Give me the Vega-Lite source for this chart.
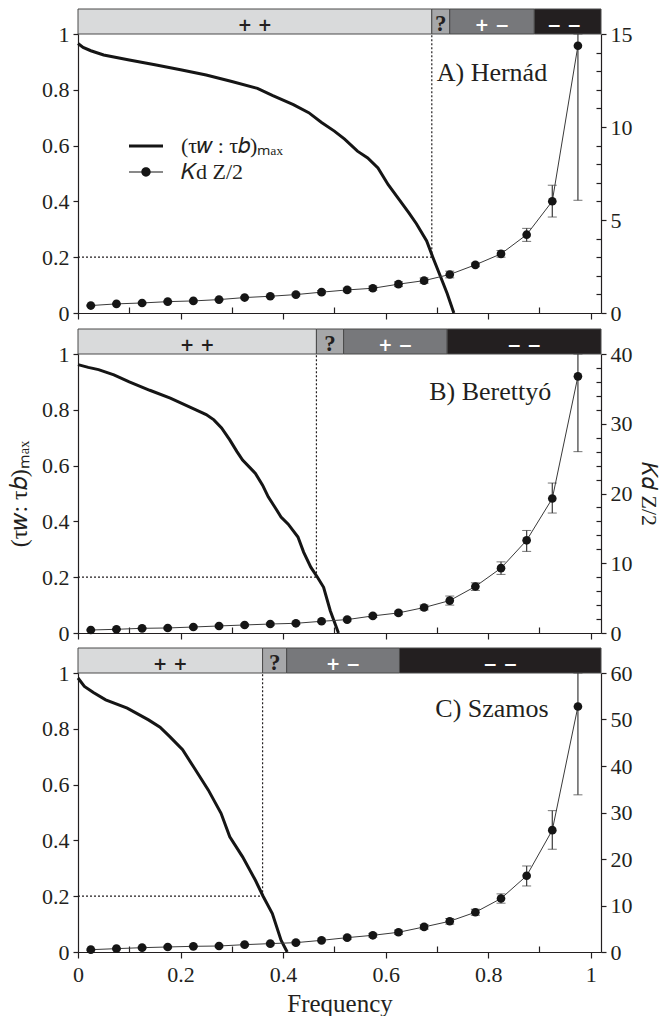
{
  "$schema": "https://vega.github.io/schema/vega-lite/v6.json",
  "padding": {"left": 7, "top": 8, "right": 6, "bottom": 0},
  "config": {
    "font": "Liberation Serif",
    "view": {"stroke": null},
    "axis": {"labelFont": "Liberation Serif", "titleFont": "Liberation Serif", "labelColor": "#231f20", "titleColor": "#231f20", "labelFontSize": 22, "titleFontSize": 24, "titleFontWeight": "normal", "domainColor": "#231f20", "tickColor": "#231f20", "domainWidth": 1.2, "tickWidth": 1.2, "grid": false, "labelPadding": 4, "labelOverlap": false, "labelBound": false, "labelFlush": false}
  },
  "datasets": {
    "band": [
      {"panel": "A", "cls": "++", "x1": 0, "x2": 0.69, "mid": 0.345, "label": "+ +"},
      {"panel": "A", "cls": "?", "x1": 0.69, "x2": 0.725, "mid": 0.7075, "label": "?"},
      {"panel": "A", "cls": "+-", "x1": 0.725, "x2": 0.89, "mid": 0.8075, "label": "+ −"},
      {"panel": "A", "cls": "--", "x1": 0.89, "x2": 1.02, "mid": 0.948, "label": "− −"},
      {"panel": "B", "cls": "++", "x1": 0, "x2": 0.465, "mid": 0.2325, "label": "+ +"},
      {"panel": "B", "cls": "?", "x1": 0.465, "x2": 0.518, "mid": 0.4915, "label": "?"},
      {"panel": "B", "cls": "+-", "x1": 0.518, "x2": 0.72, "mid": 0.619, "label": "+ −"},
      {"panel": "B", "cls": "--", "x1": 0.72, "x2": 1.02, "mid": 0.87, "label": "− −"},
      {"panel": "C", "cls": "++", "x1": 0, "x2": 0.36, "mid": 0.18, "label": "+ +"},
      {"panel": "C", "cls": "?", "x1": 0.36, "x2": 0.407, "mid": 0.3835, "label": "?"},
      {"panel": "C", "cls": "+-", "x1": 0.407, "x2": 0.627, "mid": 0.517, "label": "+ −"},
      {"panel": "C", "cls": "--", "x1": 0.627, "x2": 1.02, "mid": 0.8235, "label": "− −"}
    ],
    "guides": [
      {"panel": "A", "x": 0, "x2": 0.69, "y": 0.2, "y2": 0.2},
      {"panel": "A", "x": 0.69, "x2": 0.69, "y": 0.2, "y2": 1},
      {"panel": "B", "x": 0, "x2": 0.465, "y": 0.2, "y2": 0.2},
      {"panel": "B", "x": 0.465, "x2": 0.465, "y": 0.2, "y2": 1},
      {"panel": "C", "x": 0, "x2": 0.36, "y": 0.2, "y2": 0.2},
      {"panel": "C", "x": 0.36, "x2": 0.36, "y": 0.2, "y2": 1}
    ],
    "names": [
      {"panel": "A", "x": 0.915, "y": 0.86, "name": "A) Hernád"},
      {"panel": "B", "x": 0.923, "y": 0.864, "name": "B) Berettyó"},
      {"panel": "C", "x": 0.918, "y": 0.87, "name": "C) Szamos"}
    ],
    "curve": [
      {"panel": "A", "x": 0, "y": 0.966}, {"panel": "A", "x": 0.01, "y": 0.952}, {"panel": "A", "x": 0.025, "y": 0.94}, {"panel": "A", "x": 0.05, "y": 0.925}, {"panel": "A", "x": 0.1, "y": 0.907}, {"panel": "A", "x": 0.15, "y": 0.89}, {"panel": "A", "x": 0.2, "y": 0.872}, {"panel": "A", "x": 0.25, "y": 0.853}, {"panel": "A", "x": 0.3, "y": 0.83}, {"panel": "A", "x": 0.35, "y": 0.805}, {"panel": "A", "x": 0.38, "y": 0.779}, {"panel": "A", "x": 0.42, "y": 0.747}, {"panel": "A", "x": 0.45, "y": 0.718}, {"panel": "A", "x": 0.475, "y": 0.683}, {"panel": "A", "x": 0.5, "y": 0.652}, {"panel": "A", "x": 0.52, "y": 0.623}, {"panel": "A", "x": 0.545, "y": 0.58}, {"panel": "A", "x": 0.565, "y": 0.556}, {"panel": "A", "x": 0.585, "y": 0.52}, {"panel": "A", "x": 0.605, "y": 0.46}, {"panel": "A", "x": 0.625, "y": 0.41}, {"panel": "A", "x": 0.645, "y": 0.36}, {"panel": "A", "x": 0.66, "y": 0.32}, {"panel": "A", "x": 0.68, "y": 0.258}, {"panel": "A", "x": 0.692, "y": 0.2}, {"panel": "A", "x": 0.705, "y": 0.14}, {"panel": "A", "x": 0.72, "y": 0.07}, {"panel": "A", "x": 0.733, "y": 0},
      {"panel": "B", "x": 0, "y": 0.962}, {"panel": "B", "x": 0.02, "y": 0.952}, {"panel": "B", "x": 0.04, "y": 0.944}, {"panel": "B", "x": 0.07, "y": 0.925}, {"panel": "B", "x": 0.1, "y": 0.9}, {"panel": "B", "x": 0.14, "y": 0.87}, {"panel": "B", "x": 0.18, "y": 0.842}, {"panel": "B", "x": 0.23, "y": 0.8}, {"panel": "B", "x": 0.25, "y": 0.783}, {"panel": "B", "x": 0.265, "y": 0.764}, {"panel": "B", "x": 0.28, "y": 0.735}, {"panel": "B", "x": 0.296, "y": 0.692}, {"panel": "B", "x": 0.31, "y": 0.65}, {"panel": "B", "x": 0.321, "y": 0.62}, {"panel": "B", "x": 0.346, "y": 0.572}, {"panel": "B", "x": 0.36, "y": 0.53}, {"panel": "B", "x": 0.371, "y": 0.488}, {"panel": "B", "x": 0.385, "y": 0.448}, {"panel": "B", "x": 0.396, "y": 0.416}, {"panel": "B", "x": 0.41, "y": 0.39}, {"panel": "B", "x": 0.429, "y": 0.344}, {"panel": "B", "x": 0.44, "y": 0.29}, {"panel": "B", "x": 0.454, "y": 0.236}, {"panel": "B", "x": 0.467, "y": 0.2}, {"panel": "B", "x": 0.479, "y": 0.164}, {"panel": "B", "x": 0.492, "y": 0.08}, {"panel": "B", "x": 0.508, "y": 0},
      {"panel": "C", "x": 0, "y": 0.982}, {"panel": "C", "x": 0.0125, "y": 0.952}, {"panel": "C", "x": 0.03, "y": 0.93}, {"panel": "C", "x": 0.054, "y": 0.904}, {"panel": "C", "x": 0.096, "y": 0.874}, {"panel": "C", "x": 0.1375, "y": 0.832}, {"panel": "C", "x": 0.16, "y": 0.806}, {"panel": "C", "x": 0.179, "y": 0.772}, {"panel": "C", "x": 0.204, "y": 0.725}, {"panel": "C", "x": 0.229, "y": 0.653}, {"panel": "C", "x": 0.254, "y": 0.581}, {"panel": "C", "x": 0.279, "y": 0.497}, {"panel": "C", "x": 0.296, "y": 0.413}, {"panel": "C", "x": 0.321, "y": 0.341}, {"panel": "C", "x": 0.346, "y": 0.257}, {"panel": "C", "x": 0.361, "y": 0.2}, {"panel": "C", "x": 0.379, "y": 0.138}, {"panel": "C", "x": 0.396, "y": 0.042}, {"panel": "C", "x": 0.408, "y": 0}
    ],
    "kd": [
      {"panel": "A", "x": 0.025, "k": 0.40, "lo": 0.37, "hi": 0.43}, {"panel": "A", "x": 0.075, "k": 0.49, "lo": 0.46, "hi": 0.52}, {"panel": "A", "x": 0.125, "k": 0.54, "lo": 0.50, "hi": 0.58}, {"panel": "A", "x": 0.175, "k": 0.61, "lo": 0.57, "hi": 0.65}, {"panel": "A", "x": 0.225, "k": 0.65, "lo": 0.60, "hi": 0.70}, {"panel": "A", "x": 0.275, "k": 0.72, "lo": 0.67, "hi": 0.77}, {"panel": "A", "x": 0.325, "k": 0.83, "lo": 0.77, "hi": 0.89}, {"panel": "A", "x": 0.375, "k": 0.90, "lo": 0.84, "hi": 0.96}, {"panel": "A", "x": 0.425, "k": 0.99, "lo": 0.92, "hi": 1.06}, {"panel": "A", "x": 0.475, "k": 1.12, "lo": 1.03, "hi": 1.21}, {"panel": "A", "x": 0.525, "k": 1.24, "lo": 1.14, "hi": 1.34}, {"panel": "A", "x": 0.575, "k": 1.33, "lo": 1.22, "hi": 1.44}, {"panel": "A", "x": 0.625, "k": 1.55, "lo": 1.42, "hi": 1.68}, {"panel": "A", "x": 0.675, "k": 1.74, "lo": 1.60, "hi": 1.88}, {"panel": "A", "x": 0.725, "k": 2.07, "lo": 1.89, "hi": 2.25}, {"panel": "A", "x": 0.775, "k": 2.59, "lo": 2.49, "hi": 2.69}, {"panel": "A", "x": 0.825, "k": 3.18, "lo": 3.0, "hi": 3.36}, {"panel": "A", "x": 0.875, "k": 4.21, "lo": 3.85, "hi": 4.55}, {"panel": "A", "x": 0.925, "k": 6.01, "lo": 5.16, "hi": 6.87}, {"panel": "A", "x": 0.975, "k": 14.37, "lo": 6.06, "hi": 15},
      {"panel": "B", "x": 0.025, "k": 0.43, "lo": 0.33, "hi": 0.53}, {"panel": "B", "x": 0.075, "k": 0.53, "lo": 0.43, "hi": 0.63}, {"panel": "B", "x": 0.125, "k": 0.67, "lo": 0.55, "hi": 0.79}, {"panel": "B", "x": 0.175, "k": 0.72, "lo": 0.60, "hi": 0.84}, {"panel": "B", "x": 0.225, "k": 0.86, "lo": 0.73, "hi": 0.99}, {"panel": "B", "x": 0.275, "k": 1.01, "lo": 0.87, "hi": 1.15}, {"panel": "B", "x": 0.325, "k": 1.15, "lo": 1.0, "hi": 1.3}, {"panel": "B", "x": 0.375, "k": 1.29, "lo": 1.13, "hi": 1.45}, {"panel": "B", "x": 0.425, "k": 1.39, "lo": 1.22, "hi": 1.56}, {"panel": "B", "x": 0.475, "k": 1.68, "lo": 1.5, "hi": 1.86}, {"panel": "B", "x": 0.525, "k": 1.92, "lo": 1.72, "hi": 2.12}, {"panel": "B", "x": 0.575, "k": 2.45, "lo": 2.22, "hi": 2.68}, {"panel": "B", "x": 0.625, "k": 2.88, "lo": 2.62, "hi": 3.14}, {"panel": "B", "x": 0.675, "k": 3.65, "lo": 3.3, "hi": 4.0}, {"panel": "B", "x": 0.725, "k": 4.65, "lo": 4.0, "hi": 5.3}, {"panel": "B", "x": 0.775, "k": 6.67, "lo": 6.1, "hi": 7.2}, {"panel": "B", "x": 0.825, "k": 9.30, "lo": 8.4, "hi": 10.2}, {"panel": "B", "x": 0.875, "k": 13.29, "lo": 11.7, "hi": 14.7}, {"panel": "B", "x": 0.925, "k": 19.28, "lo": 17.2, "hi": 21.5}, {"panel": "B", "x": 0.975, "k": 36.8, "lo": 26.0, "hi": 40},
      {"panel": "C", "x": 0.025, "k": 0.50, "lo": 0.35, "hi": 0.65}, {"panel": "C", "x": 0.075, "k": 0.72, "lo": 0.55, "hi": 0.89}, {"panel": "C", "x": 0.125, "k": 0.93, "lo": 0.75, "hi": 1.11}, {"panel": "C", "x": 0.175, "k": 1.08, "lo": 0.9, "hi": 1.26}, {"panel": "C", "x": 0.225, "k": 1.22, "lo": 1.02, "hi": 1.42}, {"panel": "C", "x": 0.275, "k": 1.29, "lo": 1.08, "hi": 1.5}, {"panel": "C", "x": 0.325, "k": 1.58, "lo": 1.35, "hi": 1.81}, {"panel": "C", "x": 0.375, "k": 1.80, "lo": 1.55, "hi": 2.05}, {"panel": "C", "x": 0.425, "k": 2.01, "lo": 1.75, "hi": 2.27}, {"panel": "C", "x": 0.475, "k": 2.51, "lo": 2.2, "hi": 2.82}, {"panel": "C", "x": 0.525, "k": 3.09, "lo": 2.75, "hi": 3.43}, {"panel": "C", "x": 0.575, "k": 3.59, "lo": 3.2, "hi": 3.98}, {"panel": "C", "x": 0.625, "k": 4.24, "lo": 3.8, "hi": 4.68}, {"panel": "C", "x": 0.675, "k": 5.39, "lo": 4.9, "hi": 5.88}, {"panel": "C", "x": 0.725, "k": 6.61, "lo": 6.0, "hi": 7.2}, {"panel": "C", "x": 0.775, "k": 8.55, "lo": 7.9, "hi": 9.2}, {"panel": "C", "x": 0.825, "k": 11.5, "lo": 10.5, "hi": 12.5}, {"panel": "C", "x": 0.875, "k": 16.4, "lo": 14.2, "hi": 18.5}, {"panel": "C", "x": 0.925, "k": 26.2, "lo": 22.1, "hi": 30.4}, {"panel": "C", "x": 0.975, "k": 52.8, "lo": 33.8, "hi": 60}
    ]
  },
  "vconcat": [
    {
      "width": 523, "height": 25,
      "data": {"name": "band"},
      "transform": [{"filter": "datum.panel == 'A'"}],
      "layer": [
        {"mark": {"type": "rect", "stroke": "#4a4a4a", "strokeWidth": 1}, "encoding": {"x": {"field": "x1", "type": "quantitative", "scale": {"domain": [0, 1.02], "nice": false}, "axis": null}, "x2": {"field": "x2"}, "color": {"field": "cls", "type": "nominal", "scale": {"domain": ["++", "?", "+-", "--"], "range": ["#d9dadb", "#a6a7a9", "#77787b", "#231f20"]}, "legend": null}}},
        {"transform": [{"filter": "datum.cls != '?'"}], "mark": {"type": "text", "font": "DejaVu Sans", "fontWeight": "bold", "fontSize": 17, "baseline": "middle", "dy": 4}, "encoding": {"x": {"field": "mid", "type": "quantitative"}, "text": {"field": "label"}, "color": {"field": "cls", "type": "nominal", "scale": {"domain": ["++", "+-", "--"], "range": ["#231f20", "#ffffff", "#ffffff"]}, "legend": null}}},
        {"transform": [{"filter": "datum.cls == '?'"}], "mark": {"type": "text", "font": "Liberation Serif", "fontWeight": "bold", "fontSize": 23, "baseline": "middle", "dy": 2, "color": "#231f20"}, "encoding": {"x": {"field": "mid", "type": "quantitative"}, "text": {"field": "label"}}}
      ],
      "resolve": {"scale": {"color": "independent"}}
    },
    {
      "width": 523, "height": 279,
      "layer": [
        {
          "layer": [
            {"data": {"name": "guides"}, "transform": [{"filter": "datum.panel == 'A'"}], "mark": {"type": "rule", "strokeDash": [2, 2], "strokeWidth": 1.2, "color": "#231f20"}, "encoding": {"x": {"field": "x", "type": "quantitative", "scale": {"domain": [0, 1.02], "nice": false}, "axis": {"values": [0, 0.1, 0.2, 0.3, 0.4, 0.5, 0.6, 0.7, 0.8, 0.9, 1], "labels": false, "title": null, "tickSize": {"condition": {"test": "round(datum.value*10)%2==0", "value": 6}, "value": -6}}}, "x2": {"field": "x2"}, "y": {"field": "y", "type": "quantitative", "scale": {"domain": [0, 1], "nice": false}, "axis": {"orient": "left", "values": [0, 0.1, 0.2, 0.3, 0.4, 0.5, 0.6, 0.7, 0.8, 0.9, 1], "labelExpr": "round(datum.value*10)%2==0 ? format(datum.value,'~g') : ''", "labelOverlap": false, "title": null, "tickSize": {"condition": {"test": "round(datum.value*10)%2==0", "value": 5}, "value": -5}}}, "y2": {"field": "y2"}}},
            {"data": {"name": "curve"}, "transform": [{"filter": "datum.panel == 'A'"}], "mark": {"type": "line", "color": "#151515", "strokeWidth": 3}, "encoding": {"x": {"field": "x", "type": "quantitative"}, "y": {"field": "y", "type": "quantitative"}}},
            {"data": {"name": "names"}, "transform": [{"filter": "datum.panel == 'A'"}], "mark": {"type": "text", "font": "Liberation Serif", "fontSize": 26, "align": "right", "baseline": "middle", "color": "#231f20"}, "encoding": {"x": {"field": "x", "type": "quantitative"}, "y": {"field": "y", "type": "quantitative"}, "text": {"field": "name"}}},
            {"data": {"values": []}, "mark": {"type": "point", "filled": true, "color": "#151515"}, "encoding": {"shape": {"field": "s", "type": "nominal", "scale": {"domain": ["(τ𝑤 : τ𝑏)ₘₐₓ", "𝐾d Z/2"], "range": ["M-2,-0.18L2,-0.18L2,0.18L-2,0.18Z", "M-2,-0.06L-0.5,-0.06L-0.5,0.06L-2,0.06Z M0.5,-0.06L2,-0.06L2,0.06L0.5,0.06Z M-0.55,0A0.55,0.55,0,1,1,0.55,0A0.55,0.55,0,1,1,-0.55,0Z"]}, "legend": {"orient": "none", "legendX": 57, "legendY": 126, "title": null, "symbolSize": 289, "symbolFillColor": "#151515", "symbolStrokeWidth": 0, "symbolOpacity": 1, "labelFont": "Liberation Serif", "labelFontSize": 22, "labelColor": "#231f20", "labelOffset": 24, "rowPadding": 4, "padding": 0}}}}
          ]
        },
        {
          "data": {"name": "kd"},
          "transform": [{"filter": "datum.panel == 'A'"}],
          "layer": [
            {"mark": {"type": "line", "color": "#3a3a3a", "strokeWidth": 1}, "encoding": {"x": {"field": "x", "type": "quantitative"}, "y": {"field": "k", "type": "quantitative", "scale": {"domain": [0, 15], "nice": false}, "axis": {"orient": "right", "values": [0, 5, 10, 15], "format": "d", "labelOverlap": false, "title": null, "tickSize": 5}}}},
            {"mark": {"type": "errorbar", "ticks": {"size": 9, "color": "#3a3a3a"}, "rule": {"color": "#3a3a3a", "strokeWidth": 1.2}}, "encoding": {"x": {"field": "x", "type": "quantitative"}, "y": {"field": "lo", "type": "quantitative"}, "y2": {"field": "hi"}}},
            {"mark": {"type": "point", "filled": true, "opacity": 1, "color": "#151515", "size": 75}, "encoding": {"x": {"field": "x", "type": "quantitative"}, "y": {"field": "k", "type": "quantitative"}}}
          ]
        },
        {"data": {"values": []}, "mark": "point", "encoding": {"y": {"field": "m", "type": "quantitative", "scale": {"domain": [0, 15], "nice": false}, "axis": {"orient": "right", "values": [1, 2, 3, 4, 6, 7, 8, 9, 11, 12, 13, 14], "labels": false, "domain": false, "title": null, "tickSize": -5}}}}
      ],
      "resolve": {"scale": {"y": "independent"}}
    },
    {"width": 523, "height": 16, "data": {"values": []}, "mark": "point"},
    {
      "width": 523, "height": 25,
      "data": {"name": "band"},
      "transform": [{"filter": "datum.panel == 'B'"}],
      "layer": [
        {"mark": {"type": "rect", "stroke": "#4a4a4a", "strokeWidth": 1}, "encoding": {"x": {"field": "x1", "type": "quantitative", "scale": {"domain": [0, 1.02], "nice": false}, "axis": null}, "x2": {"field": "x2"}, "color": {"field": "cls", "type": "nominal", "scale": {"domain": ["++", "?", "+-", "--"], "range": ["#d9dadb", "#a6a7a9", "#77787b", "#231f20"]}, "legend": null}}},
        {"transform": [{"filter": "datum.cls != '?'"}], "mark": {"type": "text", "font": "DejaVu Sans", "fontWeight": "bold", "fontSize": 17, "baseline": "middle", "dy": 4}, "encoding": {"x": {"field": "mid", "type": "quantitative"}, "text": {"field": "label"}, "color": {"field": "cls", "type": "nominal", "scale": {"domain": ["++", "+-", "--"], "range": ["#231f20", "#ffffff", "#ffffff"]}, "legend": null}}},
        {"transform": [{"filter": "datum.cls == '?'"}], "mark": {"type": "text", "font": "Liberation Serif", "fontWeight": "bold", "fontSize": 23, "baseline": "middle", "dy": 2, "color": "#231f20"}, "encoding": {"x": {"field": "mid", "type": "quantitative"}, "text": {"field": "label"}}}
      ],
      "resolve": {"scale": {"color": "independent"}}
    },
    {
      "width": 523, "height": 279,
      "layer": [
        {
          "layer": [
            {"data": {"name": "guides"}, "transform": [{"filter": "datum.panel == 'B'"}], "mark": {"type": "rule", "strokeDash": [2, 2], "strokeWidth": 1.2, "color": "#231f20"}, "encoding": {"x": {"field": "x", "type": "quantitative", "scale": {"domain": [0, 1.02], "nice": false}, "axis": {"values": [0, 0.1, 0.2, 0.3, 0.4, 0.5, 0.6, 0.7, 0.8, 0.9, 1], "labels": false, "title": null, "tickSize": {"condition": {"test": "round(datum.value*10)%2==0", "value": 6}, "value": -6}}}, "x2": {"field": "x2"}, "y": {"field": "y", "type": "quantitative", "scale": {"domain": [0, 1], "nice": false}, "axis": {"orient": "left", "values": [0, 0.1, 0.2, 0.3, 0.4, 0.5, 0.6, 0.7, 0.8, 0.9, 1], "labelExpr": "round(datum.value*10)%2==0 ? format(datum.value,'~g') : ''", "labelOverlap": false, "title": "(τ𝑤: τ𝑏)ₘₐₓ", "titlePadding": 10, "tickSize": {"condition": {"test": "round(datum.value*10)%2==0", "value": 5}, "value": -5}}}, "y2": {"field": "y2"}}},
            {"data": {"name": "curve"}, "transform": [{"filter": "datum.panel == 'B'"}], "mark": {"type": "line", "color": "#151515", "strokeWidth": 3}, "encoding": {"x": {"field": "x", "type": "quantitative"}, "y": {"field": "y", "type": "quantitative"}}},
            {"data": {"name": "names"}, "transform": [{"filter": "datum.panel == 'B'"}], "mark": {"type": "text", "font": "Liberation Serif", "fontSize": 26, "align": "right", "baseline": "middle", "color": "#231f20"}, "encoding": {"x": {"field": "x", "type": "quantitative"}, "y": {"field": "y", "type": "quantitative"}, "text": {"field": "name"}}}
          ]
        },
        {
          "data": {"name": "kd"},
          "transform": [{"filter": "datum.panel == 'B'"}],
          "layer": [
            {"mark": {"type": "line", "color": "#3a3a3a", "strokeWidth": 1}, "encoding": {"x": {"field": "x", "type": "quantitative"}, "y": {"field": "k", "type": "quantitative", "title": "𝐾𝑑 Z/2", "scale": {"domain": [0, 40], "nice": false}, "axis": {"orient": "right", "values": [0, 10, 20, 30, 40], "format": "d", "labelOverlap": false, "title": "𝐾𝑑 Z/2", "titleFontSize": 22, "titlePadding": 4, "tickSize": 5}}}},
            {"mark": {"type": "errorbar", "ticks": {"size": 9, "color": "#3a3a3a"}, "rule": {"color": "#3a3a3a", "strokeWidth": 1.2}}, "encoding": {"x": {"field": "x", "type": "quantitative"}, "y": {"field": "lo", "type": "quantitative", "title": "𝐾𝑑 Z/2"}, "y2": {"field": "hi"}}},
            {"mark": {"type": "point", "filled": true, "opacity": 1, "color": "#151515", "size": 75}, "encoding": {"x": {"field": "x", "type": "quantitative"}, "y": {"field": "k", "type": "quantitative", "title": "𝐾𝑑 Z/2"}}}
          ]
        },
        {"data": {"values": []}, "mark": "point", "encoding": {"y": {"field": "m", "type": "quantitative", "scale": {"domain": [0, 40], "nice": false}, "axis": {"orient": "right", "values": [2, 4, 6, 8, 12, 14, 16, 18, 22, 24, 26, 28, 32, 34, 36, 38], "labels": false, "domain": false, "title": null, "tickSize": -5}}}}
      ],
      "resolve": {"scale": {"y": "independent"}}
    },
    {"width": 523, "height": 15, "data": {"values": []}, "mark": "point"},
    {
      "width": 523, "height": 25,
      "data": {"name": "band"},
      "transform": [{"filter": "datum.panel == 'C'"}],
      "layer": [
        {"mark": {"type": "rect", "stroke": "#4a4a4a", "strokeWidth": 1}, "encoding": {"x": {"field": "x1", "type": "quantitative", "scale": {"domain": [0, 1.02], "nice": false}, "axis": null}, "x2": {"field": "x2"}, "color": {"field": "cls", "type": "nominal", "scale": {"domain": ["++", "?", "+-", "--"], "range": ["#d9dadb", "#a6a7a9", "#77787b", "#231f20"]}, "legend": null}}},
        {"transform": [{"filter": "datum.cls != '?'"}], "mark": {"type": "text", "font": "DejaVu Sans", "fontWeight": "bold", "fontSize": 17, "baseline": "middle", "dy": 4}, "encoding": {"x": {"field": "mid", "type": "quantitative"}, "text": {"field": "label"}, "color": {"field": "cls", "type": "nominal", "scale": {"domain": ["++", "+-", "--"], "range": ["#231f20", "#ffffff", "#ffffff"]}, "legend": null}}},
        {"transform": [{"filter": "datum.cls == '?'"}], "mark": {"type": "text", "font": "Liberation Serif", "fontWeight": "bold", "fontSize": 23, "baseline": "middle", "dy": 2, "color": "#231f20"}, "encoding": {"x": {"field": "mid", "type": "quantitative"}, "text": {"field": "label"}}}
      ],
      "resolve": {"scale": {"color": "independent"}}
    },
    {
      "width": 523, "height": 279,
      "layer": [
        {
          "layer": [
            {"data": {"name": "guides"}, "transform": [{"filter": "datum.panel == 'C'"}], "mark": {"type": "rule", "strokeDash": [2, 2], "strokeWidth": 1.2, "color": "#231f20"}, "encoding": {"x": {"field": "x", "type": "quantitative", "scale": {"domain": [0, 1.02], "nice": false}, "axis": {"values": [0, 0.1, 0.2, 0.3, 0.4, 0.5, 0.6, 0.7, 0.8, 0.9, 1], "labelExpr": "round(datum.value*10)%2==0 ? format(datum.value,'~g') : ''", "labelOverlap": false, "labelPadding": 6, "title": "Frequency", "titleFontSize": 25, "titlePadding": 6, "tickSize": {"condition": {"test": "round(datum.value*10)%2==0", "value": 6}, "value": -6}}}, "x2": {"field": "x2"}, "y": {"field": "y", "type": "quantitative", "scale": {"domain": [0, 1], "nice": false}, "axis": {"orient": "left", "values": [0, 0.1, 0.2, 0.3, 0.4, 0.5, 0.6, 0.7, 0.8, 0.9, 1], "labelExpr": "round(datum.value*10)%2==0 ? format(datum.value,'~g') : ''", "labelOverlap": false, "title": null, "tickSize": {"condition": {"test": "round(datum.value*10)%2==0", "value": 5}, "value": -5}}}, "y2": {"field": "y2"}}},
            {"data": {"name": "curve"}, "transform": [{"filter": "datum.panel == 'C'"}], "mark": {"type": "line", "color": "#151515", "strokeWidth": 3}, "encoding": {"x": {"field": "x", "type": "quantitative"}, "y": {"field": "y", "type": "quantitative"}}},
            {"data": {"name": "names"}, "transform": [{"filter": "datum.panel == 'C'"}], "mark": {"type": "text", "font": "Liberation Serif", "fontSize": 26, "align": "right", "baseline": "middle", "color": "#231f20"}, "encoding": {"x": {"field": "x", "type": "quantitative"}, "y": {"field": "y", "type": "quantitative"}, "text": {"field": "name"}}}
          ]
        },
        {
          "data": {"name": "kd"},
          "transform": [{"filter": "datum.panel == 'C'"}],
          "layer": [
            {"mark": {"type": "line", "color": "#3a3a3a", "strokeWidth": 1}, "encoding": {"x": {"field": "x", "type": "quantitative"}, "y": {"field": "k", "type": "quantitative", "scale": {"domain": [0, 60], "nice": false}, "axis": {"orient": "right", "values": [0, 5, 10, 15, 20, 25, 30, 35, 40, 45, 50, 55, 60], "labelExpr": "datum.value%10==0 ? format(datum.value,'d') : ''", "labelOverlap": false, "title": null, "tickSize": {"condition": {"test": "datum.value%10==0", "value": 5}, "value": -5}}}}},
            {"mark": {"type": "errorbar", "ticks": {"size": 9, "color": "#3a3a3a"}, "rule": {"color": "#3a3a3a", "strokeWidth": 1.2}}, "encoding": {"x": {"field": "x", "type": "quantitative"}, "y": {"field": "lo", "type": "quantitative"}, "y2": {"field": "hi"}}},
            {"mark": {"type": "point", "filled": true, "opacity": 1, "color": "#151515", "size": 75}, "encoding": {"x": {"field": "x", "type": "quantitative"}, "y": {"field": "k", "type": "quantitative"}}}
          ]
        }
      ],
      "resolve": {"scale": {"y": "independent"}}
    }
  ],
  "spacing": 0,
  "bounds": "flush"
}
